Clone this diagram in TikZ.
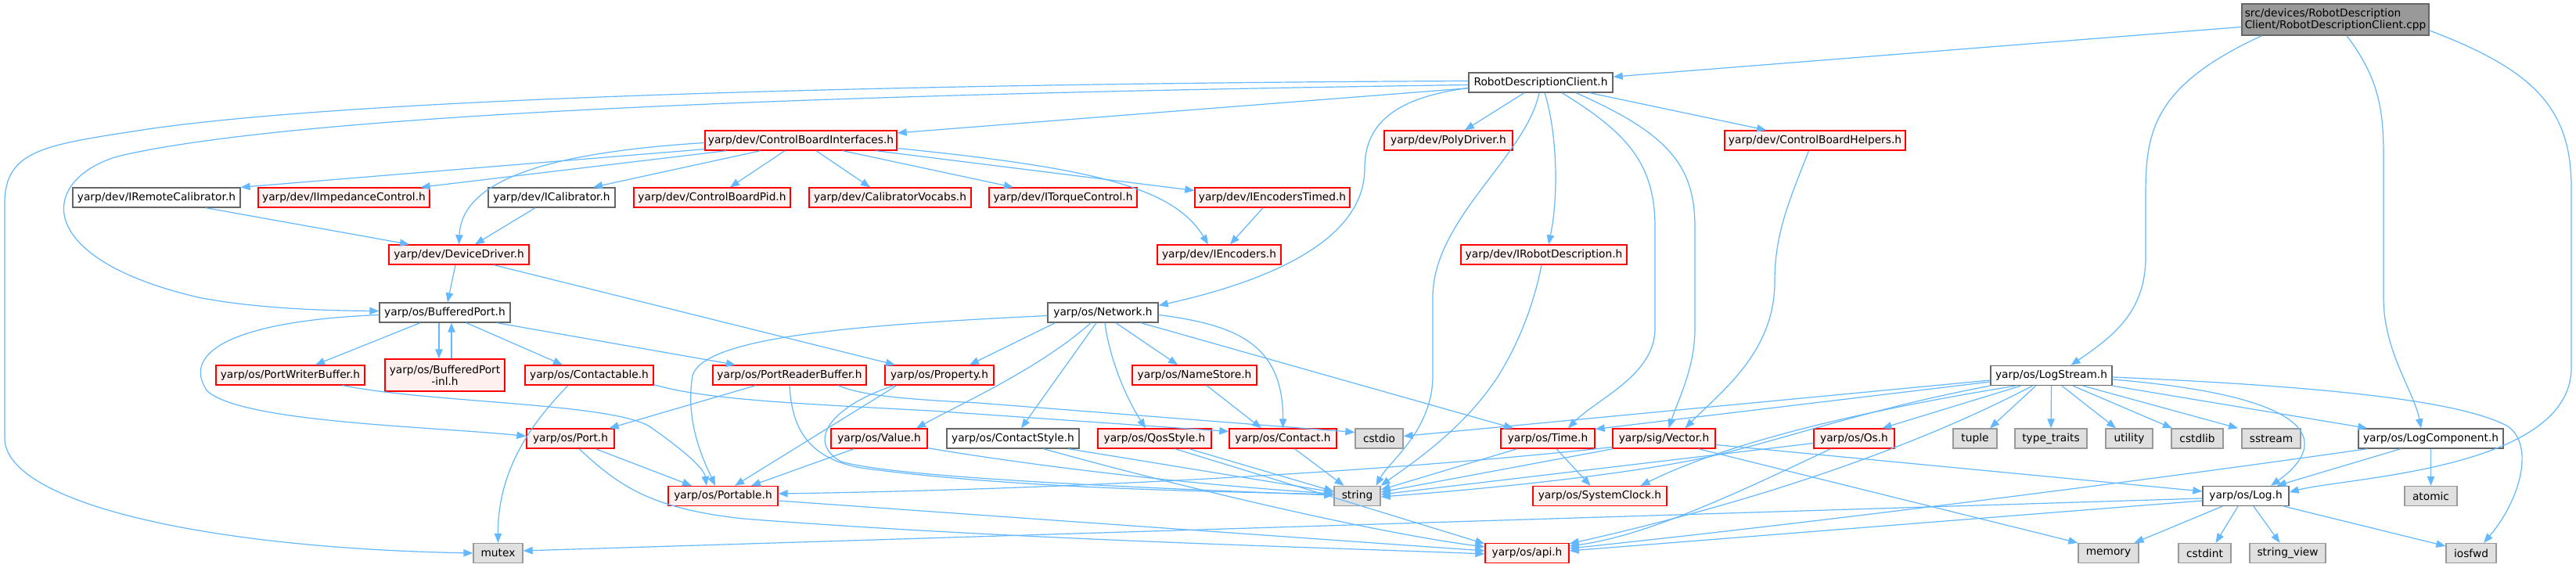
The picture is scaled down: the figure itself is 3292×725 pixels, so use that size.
\documentclass[tikz,border=0pt]{standalone}
\usepackage{fontspec}
\setmainfont{DejaVu Sans}
\usetikzlibrary{arrows.meta,calc}
\definecolor{edgec}{HTML}{63B8FF}
\definecolor{rborder}{HTML}{FF0000}
\definecolor{rfill}{HTML}{FFF0F0}
\definecolor{wborder}{HTML}{666666}
\definecolor{gborder}{HTML}{999999}
\definecolor{gfill}{HTML}{E0E0E0}
\definecolor{cppfill}{HTML}{999999}
\newcommand\dgfont{\fontsize{10.3}{11.3}\selectfont}
\tikzset{
  box/.style 2 args={draw, line width=1pt, inner sep=0pt, minimum width=#1*0.75pt, minimum height=#2*0.75pt, font=\dgfont, align=center},
  rbox/.style={draw=rborder, fill=rfill},
  wbox/.style={draw=wborder, fill=white},
  gbox/.style={draw=gborder, fill=gfill},
  cppbox/.style={draw=wborder, fill=cppfill},
  edge/.style={draw=edgec, line width=0.9pt, -{Triangle[length=9pt,width=7pt]}},
}
\begin{document}
\begin{tikzpicture}[x=0.75pt,y=-0.75pt]
\fill[white] (0,0) rectangle (3292,725);
\useasboundingbox (0,0) rectangle (3292,725);

% nodes
\node[cppbox, box={239}{40}, align=left] (cpp) at (2984.5,25) {src/devices/RobotDescription\\Client/RobotDescriptionClient.cpp};
\node[wbox, box={184}{25}] (rdc) at (1969,105.5) {RobotDescriptionClient.h};
\node[rbox, box={245}{25}] (cbi) at (1023.5,179.5) {yarp/dev/ControlBoardInterfaces.h};
\node[rbox, box={164}{25}] (poly) at (1851,179.5) {yarp/dev/PolyDriver.h};
\node[rbox, box={231}{25}] (cbh) at (2319.5,179.5) {yarp/dev/ControlBoardHelpers.h};
\node[wbox, box={214}{25}] (irc) at (200,252.5) {yarp/dev/IRemoteCalibrator.h};
\node[rbox, box={219}{25}] (iimp) at (439.5,252.5) {yarp/dev/IImpedanceControl.h};
\node[wbox, box={162}{25}] (ical) at (705,252.5) {yarp/dev/ICalibrator.h};
\node[rbox, box={200}{25}] (cbpid) at (910,252.5) {yarp/dev/ControlBoardPid.h};
\node[rbox, box={207}{25}] (calvoc) at (1137.5,252.5) {yarp/dev/CalibratorVocabs.h};
\node[rbox, box={189}{25}] (itorq) at (1358.5,252.5) {yarp/dev/ITorqueControl.h};
\node[rbox, box={198}{25}] (ienct) at (1626,252.5) {yarp/dev/IEncodersTimed.h};
\node[rbox, box={179}{25}] (dd) at (586.5,325.5) {yarp/dev/DeviceDriver.h};
\node[rbox, box={158}{25}] (ienc) at (1558,325.5) {yarp/dev/IEncoders.h};
\node[rbox, box={212}{25}] (irob) at (1973,325.5) {yarp/dev/IRobotDescription.h};
\node[wbox, box={167}{25}] (bp) at (568.5,399.5) {yarp/os/BufferedPort.h};
\node[wbox, box={141}{25}] (net) at (1409.5,399.5) {yarp/os/Network.h};
\node[rbox, box={190}{25}] (pwb) at (371,479.5) {yarp/os/PortWriterBuffer.h};
\node[rbox, box={153}{41}] (bpinl) at (568.5,479.5) {yarp/os/BufferedPort\\-inl.h};
\node[rbox, box={164}{25}] (ctb) at (753,479.5) {yarp/os/Contactable.h};
\node[rbox, box={196}{25}] (prb) at (1009,479.5) {yarp/os/PortReaderBuffer.h};
\node[rbox, box={139}{25}] (prop) at (1200.5,479.5) {yarp/os/Property.h};
\node[rbox, box={159}{25}] (nstore) at (1526.5,479.5) {yarp/os/NameStore.h};
\node[wbox, box={155}{25}] (lstr) at (2621.5,480) {yarp/os/LogStream.h};
\node[rbox, box={112}{25}] (port) at (729,560.5) {yarp/os/Port.h};
\node[rbox, box={123}{25}] (val) at (1123.5,560.5) {yarp/os/Value.h};
\node[wbox, box={169}{25}] (cstyle) at (1294.5,560.5) {yarp/os/ContactStyle.h};
\node[rbox, box={145}{25}] (qos) at (1475.5,560.5) {yarp/os/QosStyle.h};
\node[rbox, box={137}{25}] (contact) at (1639.5,560.5) {yarp/os/Contact.h};
\node[gbox, box={61}{25}] (cstdio) at (1762.5,560.5) {cstdio};
\node[rbox, box={120}{25}] (time) at (1978,560.5) {yarp/os/Time.h};
\node[rbox, box={131}{25}] (vec) at (2126.5,560.5) {yarp/sig/Vector.h};
\node[rbox, box={103}{25}] (os) at (2369.5,560.5) {yarp/os/Os.h};
\node[gbox, box={56}{25}] (tuple) at (2524,560.5) {tuple};
\node[gbox, box={92}{25}] (ttraits) at (2621,560.5) {type\_traits};
\node[gbox, box={60}{25}] (util) at (2721,560.5) {utility};
\node[gbox, box={66}{25}] (cstdlib) at (2808,560.5) {cstdlib};
\node[gbox, box={75}{25}] (sstream) at (2902.5,560.5) {sstream};
\node[wbox, box={185}{25}] (lcomp) at (3106.5,560.5) {yarp/os/LogComponent.h};
\node[rbox, box={140}{25}] (portable) at (924,634) {yarp/os/Portable.h};
\node[gbox, box={59}{25}] (string) at (1734.5,634) {string};
\node[rbox, box={171}{25}] (sclock) at (2044.5,634) {yarp/os/SystemClock.h};
\node[wbox, box={110}{25}] (log) at (2870,634) {yarp/os/Log.h};
\node[gbox, box={67}{25}] (atomic) at (3106.5,634) {atomic};
\node[gbox, box={63}{25}] (mutex) at (636.5,707) {mutex};
\node[rbox, box={107}{25}] (api) at (1951.5,707) {yarp/os/api.h};
\node[gbox, box={77}{25}] (memory) at (2694.5,707) {memory};
\node[gbox, box={67}{25}] (cstdint) at (2817.5,707) {cstdint};
\node[gbox, box={97}{25}] (sview) at (2923.5,707) {string\_view};
\node[gbox, box={64}{25}] (iosfwd) at (3158,707) {iosfwd};

% cpp
\draw[edge] (cpp) -- (rdc);
\draw[edge] ($(cpp.south)+(-94,0)$) .. controls (2750,110) and (2742,170) .. (2742,250) -- (2742,333) .. controls (2740,400) and (2700,430) .. ($(lstr.north)+(25,0)$);
\draw[edge] ($(cpp.south)+(14.5,0)$) .. controls (3040,100) and (3046,140) .. (3046,200) -- (3046,380) .. controls (3046,450) and (3085,500) .. ($(lcomp.north)+(-12.5,0)$);
\draw[edge] ($(cpp.east)+(0,14)$) .. controls (3240,90) and (3286,140) .. (3286,240) -- (3286,470) .. controls (3286,600) and (3000,610) .. ($(log.east)+(0,-5)$);

% RobotDescriptionClient.h
\draw[edge] (rdc) -- (cbi);
\draw[edge] (rdc) -- (poly);
\draw[edge] (rdc) -- (cbh);
\draw[edge] ($(rdc.south)+(5,0)$) .. controls (1990,170) and (1992,250) .. ($(irob.north)+(6,0)$);
\draw[edge] ($(rdc.west)+(0,7)$) .. controls (1780,125) and (1744,160) .. (1744,215) .. controls (1744,300) and (1640,355) .. ($(net.east)+(0,-9)$);
\draw[edge] ($(rdc.west)+(0,-2)$) .. controls (1300,106) and (500,120) .. (189,165) .. controls (60,185) and (6,190) .. (6,260) -- (6,560) .. controls (6,640) and (250,700) .. (mutex.west);
\draw[edge] ($(rdc.west)+(0,3)$) .. controls (1200,118) and (400,140) .. (150,200) .. controls (50,230) and (40,330) .. (253,380) .. controls (330,395) and (420,397) .. ($(bp.west)+(0,-2)$);
\draw[edge] ($(rdc.south)+(-2,0)$) .. controls (1950,200) and (1831,280) .. (1831,380) -- (1831,480) .. controls (1831,550) and (1775,590) .. ($(string.north)+(24,0)$);
\draw[edge] ($(rdc.south)+(27,0)$) .. controls (2080,170) and (2115,210) .. (2115,290) -- (2115,420) .. controls (2115,480) and (2040,510) .. ($(time.north)+(26,0)$);
\draw[edge] ($(rdc.south)+(45,0)$) .. controls (2130,170) and (2166,210) .. (2166,290) -- (2166,420) .. controls (2166,470) and (2145,510) .. ($(vec.north)+(6,0)$);
\draw[edge] ($(cbh.south)+(-8,0)$) .. controls (2285,260) and (2268,300) .. (2268,360) .. controls (2268,450) and (2200,500) .. ($(vec.north)+(27,0)$);
\draw[edge] ($(irob.south)+(-3,0)$) .. controls (1960,390) and (1940,440) .. (1915,480) .. controls (1870,550) and (1800,595) .. (string.north east);

% ControlBoardInterfaces.h
\draw[edge] ($(cbi.west)+(0,3)$) .. controls (700,195) and (590,230) .. (dd.north);
\draw[edge] ($(cbi.south west)+(0,-2)$) -- (irc.north east);
\draw[edge] ($(cbi.south west)+(28,0)$) -- ($(iimp.north east)+(-12,0)$);
\draw[edge] ($(cbi.south)+(-51.5,0)$) -- ($(ical.north)+(53,0)$);
\draw[edge] ($(cbi.south)+(-20.5,0)$) -- ($(cbpid.north)+(23,0)$);
\draw[edge] ($(cbi.south)+(19.5,0)$) -- ($(calvoc.north)+(-25.5,0)$);
\draw[edge] ($(cbi.south)+(53.5,0)$) -- ($(itorq.north)+(-63.5,0)$);
\draw[edge] ($(cbi.south)+(95.5,0)$) -- ($(ienct.west)+(0,-9)$);
\draw[edge] ($(cbi.east)+(0,10)$) .. controls (1400,215) and (1500,240) .. ($(ienc.north)+(-14,0)$);
\draw[edge] ($(ienct.south)+(-12,0)$) -- ($(ienc.north)+(14,0)$);
\draw[edge] ($(irc.south)+(63,0)$) -- ($(dd.north)+(-63.5,0)$);
\draw[edge] ($(ical.south)+(-21,0)$) -- ($(dd.north)+(20.5,0)$);
\draw[edge] ($(dd.south)+(-4.5,0)$) -- ($(bp.north)+(3.5,0)$);
\draw[edge] ($(dd.south)+(44.5,0)$) -- ($(prop.north)+(-56.5,0)$);

% BufferedPort.h
\draw[edge] ($(bp.south)+(-31.5,0)$) -- ($(pwb.north)+(32,0)$);
\draw[edge] ($(bp.south)+(-7.5,0)$) -- ($(bpinl.north)+(-7.5,0)$);
\draw[edge] ($(bpinl.north)+(8.5,0)$) -- ($(bp.south)+(8.5,0)$);
\draw[edge] ($(bp.south)+(27.5,0)$) -- ($(ctb.north)+(-34,0)$);
\draw[edge] ($(bp.south)+(66.5,0)$) -- ($(prb.north)+(-69,0)$);
\draw[edge] ($(bp.west)+(0,3)$) .. controls (300,410) and (230,450) .. (265,500) .. controls (310,540) and (550,545) .. ($(port.west)+(0,-3)$);
\draw[edge] ($(pwb.south)+(67,0)$) .. controls (550,515) and (780,515) .. (830,545) .. controls (880,580) and (900,600) .. ($(portable.north)+(-21,0)$);
\draw[edge] ($(ctb.south)+(-27,0)$) .. controls (680,540) and (636,600) .. (mutex.north);
\draw[edge] ($(ctb.south east)+(0,-1)$) .. controls (900,510) and (1000,515) .. (1189,525) -- ($(contact.west)+(0,-9)$);
\draw[edge] ($(prb.south)+(-43,0)$) -- ($(port.north east)+(-7,0)$);
\draw[edge] ($(prb.south)+(62,0)$) .. controls (1100,505) and (1150,510) .. (1250,515) -- ($(cstdio.west)+(0,-8)$);
\draw[edge] (prb.south) .. controls (1012,545) and (1030,585) .. (1100,598) .. controls (1300,625) and (1550,628) .. ($(string.west)+(0,-2)$);
\draw[edge] ($(prop.south)+(-54.5,0)$) -- ($(portable.north)+(15,0)$);
\draw[edge] ($(prop.south)+(-58,0)$) .. controls (1060,520) and (1030,565) .. (1075,590) .. controls (1150,612) and (1500,625) .. ($(string.west)+(0,-1)$);

% Network.h
\draw[edge] ($(net.west)+(0,4)$) .. controls (1100,415) and (900,430) .. (885,480) .. controls (875,540) and (900,590) .. ($(portable.north)+(-10,0)$);
\draw[edge] ($(net.south)+(-61,0)$) -- ($(prop.north)+(38.5,0)$);
\draw[edge] ($(net.south)+(-15.5,0)$) .. controls (1330,470) and (1230,515) .. ($(val.north)+(47.5,0)$);
\draw[edge] ($(net.south)+(-8.5,0)$) -- ($(cstyle.north)+(10.5,0)$);
\draw[edge] ($(net.south)+(2.5,0)$) .. controls (1418,460) and (1440,510) .. ($(qos.north)+(-11.5,0)$);
\draw[edge] ($(net.south)+(16.5,0)$) -- ($(nstore.north)+(-21.5,0)$);
\draw[edge] ($(net.east)+(0,3)$) .. controls (1580,415) and (1640,440) .. (contact.north);
\draw[edge] ($(net.south)+(48.5,0)$) -- ($(time.north)+(-44,0)$);
\draw[edge] ($(nstore.south)+(15.5,0)$) -- ($(contact.north)+(-27.5,0)$);

% row of Port
\draw[edge] ($(port.south)+(32,0)$) -- ($(portable.north)+(-40,0)$);
\draw[edge] ($(port.south)+(11,0)$) .. controls (790,620) and (830,650) .. (950,663) .. controls (1300,690) and (1700,700) .. ($(api.west)+(0,1)$);
\draw[edge] ($(portable.east)+(0,6)$) -- ($(api.west)+(0,-3)$);
\draw[edge] ($(val.south)+(-32,0)$) -- ($(portable.north)+(36,0)$);
\draw[edge] ($(val.south east)+(0,-1)$) .. controls (1300,592) and (1500,618) .. ($(string.west)+(0,-3)$);
\draw[edge] ($(cstyle.south)+(71,0)$) -- ($(string.west)+(0,-5)$);
\draw[edge] ($(cstyle.south)+(39,0)$) .. controls (1500,620) and (1750,680) .. ($(api.west)+(0,-8)$);
\draw[edge] ($(qos.south)+(44,0)$) -- ($(string.west)+(0,-6)$);
\draw[edge] ($(qos.south)+(26,0)$) -- ($(api.west)+(0,-12)$);
\draw[edge] ($(contact.south)+(15,0)$) -- ($(string.north)+(-17,0)$);
\draw[edge] ($(time.south)+(-39,0)$) -- ($(string.east)+(0,-8)$);
\draw[edge] ($(time.south)+(11,0)$) -- ($(sclock.north)+(-12,0)$);
\draw[edge] ($(vec.south west)+(1,0)$) -- ($(string.east)+(0,-5)$);
\draw[edge] ($(vec.west)+(0,11)$) .. controls (1800,600) and (1400,625) .. ($(portable.east)+(0,-3)$);
\draw[edge] ($(vec.east)+(0,8)$) -- ($(log.west)+(0,-6)$);
\draw[edge] ($(vec.south)+(44,0)$) -- (memory.north west);
\draw[edge] ($(os.west)+(0,6)$) -- ($(string.east)+(0,-2)$);
\draw[edge] ($(os.south)+(-30,0)$) .. controls (2200,640) and (2100,685) .. ($(api.east)+(0,-9)$);

% LogStream.h
\draw[edge] ($(lstr.west)+(0,8)$) -- ($(time.east)+(0,-12)$);
\draw[edge] ($(lstr.west)+(0,6)$) -- ($(cstdio.east)+(0,-3)$);
\draw[edge] (lstr.south west) .. controls (2400,520) and (2300,555) .. (2200,580) .. controls (2100,605) and (1900,625) .. ($(string.east)+(0,1)$);
\draw[edge] ($(lstr.south)+(-46,0)$) .. controls (2350,530) and (2200,570) .. ($(sclock.north)+(52,0)$);
\draw[edge] ($(lstr.south)+(-24,0)$) .. controls (2450,570) and (2250,640) .. ($(api.east)+(0,-12)$);
\draw[edge] ($(lstr.south)+(-39,0)$) -- ($(os.north)+(36,0)$);
\draw[edge] ($(lstr.south)+(-20,0)$) -- ($(tuple.north)+(19,0)$);
\draw[edge] (lstr.south) -- (ttraits.north);
\draw[edge] ($(lstr.south)+(13.5,0)$) -- ($(util.north)+(-17,0)$);
\draw[edge] ($(lstr.south)+(27.5,0)$) -- ($(cstdlib.north)+(-32,0)$);
\draw[edge] ($(lstr.south)+(40.5,0)$) -- ($(sstream.north)+(-42.5,0)$);
\draw[edge] (lstr.south east) -- ($(lcomp.north west)+(12,0)$);
\draw[edge] ($(lstr.east)+(0,5)$) .. controls (3000,510) and (2960,580) .. ($(log.north)+(32,0)$);
\draw[edge] ($(lstr.east)+(0,2)$) .. controls (3000,495) and (3150,515) .. (3205,545) .. controls (3240,570) and (3220,640) .. ($(iosfwd.north)+(16,0)$);

% LogComponent.h
\draw[edge] ($(lcomp.south)+(-38.5,0)$) -- ($(log.north east)+(-16,0)$);
\draw[edge] (lcomp.south) -- (atomic.north);
\draw[edge] ($(lcomp.south west)+(12,0)$) .. controls (2700,620) and (2300,670) .. ($(api.east)+(0,-6)$);

% Log.h
\draw[edge] ($(log.west)+(0,3)$) -- ($(mutex.east)+(0,-3)$);
\draw[edge] ($(log.west)+(0,6)$) -- ($(api.east)+(0,-3)$);
\draw[edge] ($(log.south)+(-30,0)$) -- ($(memory.north)+(33,0)$);
\draw[edge] ($(log.south)+(-10,0)$) -- ($(cstdint.north)+(14,0)$);
\draw[edge] ($(log.south)+(10,0)$) -- ($(sview.north)+(-10,0)$);
\draw[edge] ($(log.south east)+(-7,0)$) -- ($(iosfwd.west)+(0,-9)$);
\end{tikzpicture}
\end{document}
